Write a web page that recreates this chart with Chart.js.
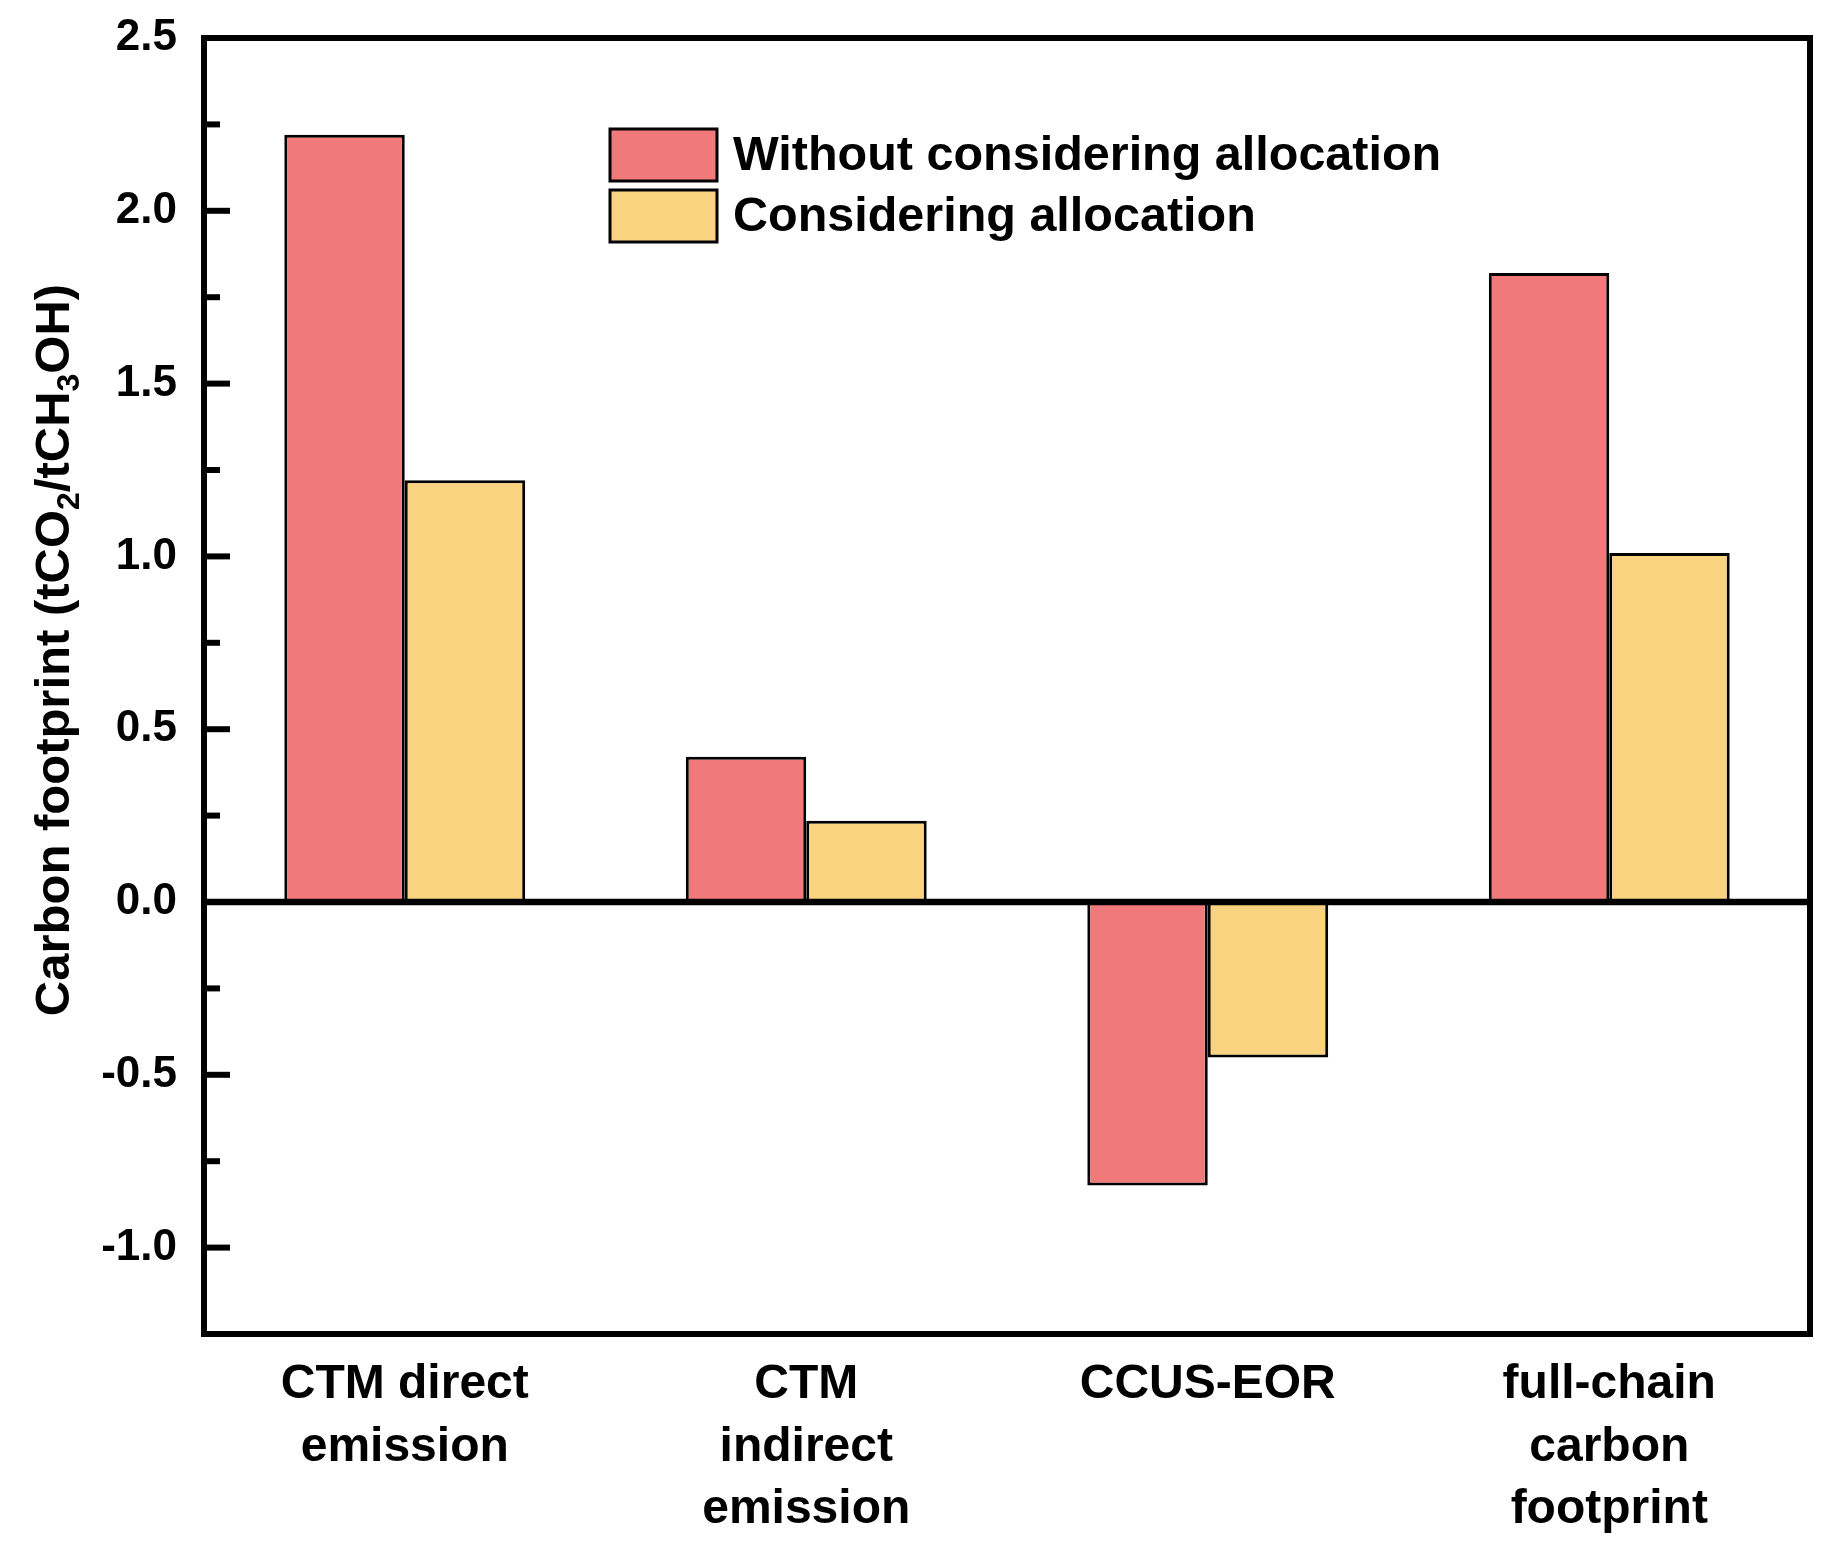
<!DOCTYPE html>
<html>
<head>
<meta charset="utf-8">
<script src="https://cdn.jsdelivr.net/npm/chart.js@4"></script>
<style>
  html, body { margin: 0; padding: 0; background: #ffffff; }
  #wrap { width: 1833px; height: 1563px; }
</style>
</head>
<body>
<div id="wrap"><canvas id="c" width="1833" height="1563"></canvas></div>
<script>
const categories = [
  ["CTM direct", "emission"],
  ["CTM", "indirect", "emission"],
  ["CCUS-EOR"],
  ["full-chain", "carbon", "footprint"]
];
const seriesNames = ["Without considering allocation", "Considering allocation"];
const withoutAllocation = [2.22, 0.42, -0.82, 1.82];
const withAllocation = [1.22, 0.235, -0.45, 1.01];
const yMajorTicks = [-1.0, -0.5, 0.0, 0.5, 1.0, 1.5, 2.0, 2.5];
const yMinorTicks = [-1.25, -0.75, -0.25, 0.25, 0.75, 1.25, 1.75, 2.25];
const yTitleParts = [
  { t: "Carbon footprint (tCO" }, { t: "2", sub: true },
  { t: "/tCH" }, { t: "3", sub: true }, { t: "OH)" }
];

const colors = ["#F07A7A", "#FAD380"];
const FONT = "'Liberation Sans', Arial, sans-serif";

const framePlugin = {
  id: 'frame',
  afterDatasetsDraw(chart) {
    const ctx = chart.ctx;
    const a = chart.chartArea;
    const y = chart.scales.y;
    ctx.save();
    ctx.strokeStyle = '#000';
    ctx.lineWidth = 6.5;
    ctx.beginPath();
    const y0 = y.getPixelForValue(0);
    ctx.moveTo(a.left, y0);
    ctx.lineTo(a.right, y0);
    ctx.stroke();
    ctx.lineWidth = 6;
    ctx.strokeRect(a.left, a.top, a.right - a.left, a.bottom - a.top);
    yMajorTicks.forEach(v => {
      const p = y.getPixelForValue(v);
      ctx.beginPath(); ctx.moveTo(a.left, p); ctx.lineTo(a.left + 26, p); ctx.stroke();
    });
    yMinorTicks.forEach(v => {
      const p = y.getPixelForValue(v);
      ctx.beginPath(); ctx.moveTo(a.left, p); ctx.lineTo(a.left + 16, p); ctx.stroke();
    });
    ctx.restore();
  },
  afterDraw(chart) {
    const ctx = chart.ctx;
    ctx.save();
    const ds = chart.data.datasets;
    const bx = 610, bw = 107, bh = 52;
    const rows = [129, 190];
    ctx.font = "bold 48.5px " + FONT;
    ctx.textBaseline = 'middle';
    ctx.textAlign = 'left';
    ds.forEach((d, i) => {
      const by = rows[i];
      ctx.fillStyle = d.backgroundColor;
      ctx.fillRect(bx, by, bw, bh);
      ctx.strokeStyle = '#000';
      ctx.lineWidth = 3;
      ctx.strokeRect(bx, by, bw, bh);
      ctx.fillStyle = '#000';
      ctx.fillText(d.label, bx + bw + 16, by + bh / 2 + 2);
    });
    const main = 49, sub = 32;
    ctx.translate(52, 650);
    ctx.rotate(-Math.PI / 2);
    let total = 0;
    yTitleParts.forEach(p => {
      ctx.font = "bold " + (p.sub ? sub : main) + "px " + FONT;
      total += ctx.measureText(p.t).width;
    });
    let x = -total / 2;
    ctx.textAlign = 'left';
    ctx.textBaseline = 'alphabetic';
    ctx.fillStyle = '#000';
    yTitleParts.forEach(p => {
      ctx.font = "bold " + (p.sub ? sub : main) + "px " + FONT;
      ctx.fillText(p.t, x, p.sub ? 17 + 10 : 17);
      x += ctx.measureText(p.t).width;
    });
    ctx.restore();
  }
};

new Chart(document.getElementById('c'), {
  type: 'bar',
  data: {
    labels: categories,
    datasets: [
      { label: seriesNames[0], data: withoutAllocation, backgroundColor: colors[0],
        borderColor: '#000', borderWidth: 3, borderSkipped: false },
      { label: seriesNames[1], data: withAllocation, backgroundColor: colors[1],
        borderColor: '#000', borderWidth: 3, borderSkipped: false }
    ]
  },
  options: {
    responsive: false,
    animation: false,
    devicePixelRatio: 1,
    layout: { padding: { top: 38, right: 23, left: 0, bottom: 0 } },
    datasets: { bar: { categoryPercentage: 0.6, barPercentage: 1.0 } },
    plugins: { legend: { display: false }, tooltip: { enabled: false } },
    scales: {
      x: {
        grid: { display: false, drawTicks: false },
        border: { display: false },
        ticks: {
          color: '#000', padding: 20, maxRotation: 0, autoSkip: false,
          font: { family: FONT, size: 48, weight: 'bold', lineHeight: 1.3 }
        },
        afterFit(s) { s.height = 1563 - 1334; s.paddingLeft = 0; s.paddingRight = 0; }
      },
      y: {
        min: -1.25, max: 2.5,
        grid: { display: false, drawTicks: false },
        border: { display: false },
        afterBuildTicks(s) { s.ticks = yMajorTicks.map(v => ({ value: v })); },
        ticks: {
          color: '#000', padding: 27,
          font: { family: FONT, size: 44, weight: 'bold' },
          callback: v => Number(v).toFixed(1)
        },
        afterFit(s) { s.width = 204; s.paddingTop = 0; s.paddingBottom = 0; }
      }
    }
  },
  plugins: [framePlugin]
});
</script>
</body>
</html>
